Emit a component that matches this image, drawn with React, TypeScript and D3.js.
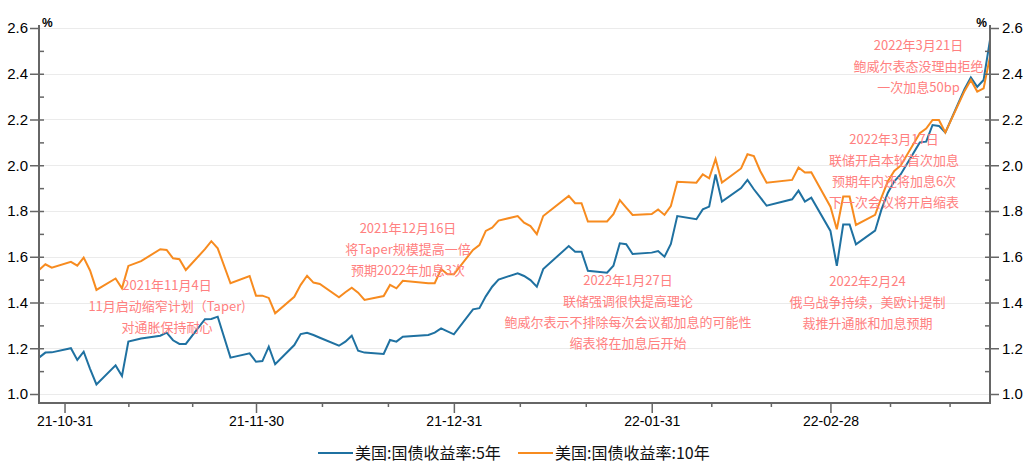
import { useEffect, useRef } from 'react';
import * as d3 from 'd3';

// trading days shown on the chart
const dates = [
  '2021-10-27', '2021-10-28', '2021-10-29',
  '2021-11-01', '2021-11-02', '2021-11-03', '2021-11-04', '2021-11-05',
  '2021-11-08', '2021-11-09', '2021-11-10', '2021-11-12',
  '2021-11-15', '2021-11-16', '2021-11-17', '2021-11-18', '2021-11-19',
  '2021-11-22', '2021-11-23', '2021-11-24', '2021-11-26',
  '2021-11-29', '2021-11-30', '2021-12-01', '2021-12-02', '2021-12-03',
  '2021-12-06', '2021-12-07', '2021-12-08', '2021-12-09', '2021-12-10',
  '2021-12-13', '2021-12-14', '2021-12-15', '2021-12-16', '2021-12-17',
  '2021-12-20', '2021-12-21', '2021-12-22', '2021-12-23',
  '2021-12-27', '2021-12-28', '2021-12-29', '2021-12-30', '2021-12-31',
  '2022-01-03', '2022-01-04', '2022-01-05', '2022-01-06', '2022-01-07',
  '2022-01-10', '2022-01-11', '2022-01-12', '2022-01-13', '2022-01-14',
  '2022-01-18', '2022-01-19', '2022-01-20', '2022-01-21',
  '2022-01-24', '2022-01-25', '2022-01-26', '2022-01-27', '2022-01-28',
  '2022-01-31', '2022-02-01', '2022-02-02', '2022-02-03', '2022-02-04',
  '2022-02-07', '2022-02-08', '2022-02-09', '2022-02-10', '2022-02-11',
  '2022-02-14', '2022-02-15', '2022-02-16', '2022-02-17', '2022-02-18',
  '2022-02-22', '2022-02-23', '2022-02-24', '2022-02-25',
  '2022-02-28', '2022-03-01', '2022-03-02', '2022-03-03', '2022-03-04',
  '2022-03-07', '2022-03-08', '2022-03-09', '2022-03-10', '2022-03-11',
  '2022-03-14', '2022-03-15', '2022-03-16', '2022-03-17', '2022-03-18',
  '2022-03-21', '2022-03-22', '2022-03-23', '2022-03-24', '2022-03-25',
];

// 美国:国债收益率:5年 (%)
const yield5 = [
  1.159, 1.181, 1.182,
  1.200, 1.149, 1.185, 1.110, 1.042,
  1.125, 1.079, 1.229, 1.243,
  1.255, 1.268, 1.235, 1.219, 1.219,
  1.327, 1.328, 1.338, 1.159,
  1.178, 1.141, 1.144, 1.207, 1.130,
  1.214, 1.262, 1.268, 1.258, 1.246,
  1.211, 1.229, 1.255, 1.189, 1.181,
  1.175, 1.236, 1.229, 1.250,
  1.258, 1.268, 1.287, 1.274, 1.261,
  1.370, 1.375, 1.427, 1.469, 1.500,
  1.528, 1.516, 1.498, 1.469, 1.546,
  1.647, 1.622, 1.622, 1.539,
  1.530, 1.561, 1.659, 1.655, 1.612,
  1.618, 1.625, 1.600, 1.656, 1.778,
  1.764, 1.807, 1.819, 1.960, 1.841,
  1.900, 1.936, 1.895, 1.860, 1.823,
  1.851, 1.889, 1.841, 1.858,
  1.713, 1.560, 1.741, 1.741, 1.654,
  1.714, 1.807, 1.880, 1.930, 1.960,
  2.100, 2.103, 2.176, 2.172, 2.143,
  2.332, 2.384, 2.343, 2.373, 2.548,
];

// 美国:国债收益率:10年 (%)
const yield10 = [
  1.542, 1.567, 1.552,
  1.578, 1.561, 1.596, 1.540, 1.455,
  1.505, 1.462, 1.560, 1.581,
  1.633, 1.630, 1.593, 1.589, 1.542,
  1.633, 1.668, 1.637, 1.484,
  1.516, 1.430, 1.430, 1.420, 1.353,
  1.425, 1.477, 1.517, 1.487, 1.481,
  1.423, 1.445, 1.465, 1.443, 1.411,
  1.428, 1.477, 1.462, 1.495,
  1.484, 1.484, 1.546, 1.523, 1.523,
  1.630, 1.651, 1.713, 1.727, 1.758,
  1.778, 1.749, 1.734, 1.699, 1.778,
  1.866, 1.834, 1.834, 1.754,
  1.754, 1.786, 1.848, 1.815, 1.783,
  1.787, 1.807, 1.783, 1.822, 1.928,
  1.924, 1.960, 1.943, 2.027, 1.924,
  1.986, 2.048, 2.040, 1.975, 1.924,
  1.936, 1.990, 1.968, 1.969,
  1.819, 1.720, 1.863, 1.863, 1.739,
  1.783, 1.860, 1.930, 1.975, 1.998,
  2.140, 2.160, 2.198, 2.198, 2.143,
  2.324, 2.373, 2.322, 2.336, 2.475,
];

const tickDates = ['2021-10-31', '2021-11-30', '2021-12-31', '2022-01-31', '2022-02-28'];
const tickLabels = ['21-10-31', '21-11-30', '21-12-31', '22-01-31', '22-02-28'];
const yTicks = [1.0, 1.2, 1.4, 1.6, 1.8, 2.0, 2.2, 2.4, 2.6];

const seriesNames = ['美国:国债收益率:5年', '美国:国债收益率:10年'];
const seriesColors = ['#1f71a1', '#f78b1f'];

const notes = [
  { lines: ['2021年11月4日', '11月启动缩窄计划（Taper)', '对通胀保持耐心'], x: 167, y: 285 },
  { lines: ['2021年12月16日', '将Taper规模提高一倍', '预期2022年加息3次'], x: 408, y: 228 },
  { lines: ['2022年1月27日', '联储强调很快提高理论', '鲍威尔表示不排除每次会议都加息的可能性', '缩表将在加息后开始'], x: 628, y: 280.5 },
  { lines: ['2022年3月21日', '鲍威尔表态没理由拒绝', '一次加息50bp'], x: 918.5, y: 45 },
  { lines: ['2022年3月17日', '联储开启本轮首次加息', '预期年内还将加息6次', '下一次会议将开启缩表'], x: 894, y: 139.5 },
  { lines: ['2022年2月24', '俄乌战争持续，美欧计提制', '裁推升通胀和加息预期'], x: 867.5, y: 281.5 },
];

export default function App() {
  const ref = useRef<SVGSVGElement>(null);

  useEffect(() => {
    const W = 1032, H = 471;
    const L = 39, R = 990, T = 28, B = 394, axisY = 403;
    const axisColor = '#666';
    const numFont = '"Liberation Sans", Arial, sans-serif';
    const cjkFont = '"Noto Sans CJK SC", sans-serif';

    const parse = d3.timeParse('%Y-%m-%d');
    const ds = dates.map(s => parse(s) as Date);

    const x = d3.scaleTime()
      .domain(d3.extent(ds) as [Date, Date])
      .range([L, R]);
    const y = d3.scaleLinear().domain([1.0, 2.6]).range([B, T]);

    const svg = d3.select(ref.current).attr('width', W).attr('height', H);
    svg.selectAll('*').remove();

    // grid
    svg.append('g')
      .selectAll('line')
      .data(yTicks)
      .join('line')
        .attr('x1', L).attr('x2', R)
        .attr('y1', d => Math.round(y(d)) + 0.5)
        .attr('y2', d => Math.round(y(d)) + 0.5)
        .attr('stroke', '#ebebeb');

    // lines
    const series = [yield5, yield10];
    series.forEach((vals, k) => {
      const line = d3.line<number>()
        .x((_, i) => x(ds[i]))
        .y(v => y(v));
      svg.append('path')
        .attr('d', line(vals))
        .attr('fill', 'none')
        .attr('stroke', seriesColors[k])
        .attr('stroke-width', 2);
    });

    // annotations
    const ann = svg.append('g')
      .attr('font-family', cjkFont)
      .attr('font-size', 13)
      .attr('fill', '#ff8080')
      .attr('text-anchor', 'middle');
    notes.forEach(n => {
      n.lines.forEach((t, i) => {
        ann.append('text')
          .attr('x', n.x)
          .attr('y', n.y + i * 21 + 4.6)
          .text(t);
      });
    });

    // minor ticks: thirds between month ends, and two beyond the last
    const tds = tickDates.map(s => parse(s) as Date);
    const minor: Date[] = [];
    tds.forEach((d, i) => {
      const next = tds[i + 1];
      const span = next ? +next - +d : +d - +tds[i - 1];
      if (next || i === tds.length - 1) {
        minor.push(new Date(+d + span / 3), new Date(+d + (2 * span) / 3));
      }
    });

    const styleAxis = (g: d3.Selection<SVGGElement, unknown, null, undefined>) => {
      g.select('.domain').remove();
      g.selectAll('line').attr('stroke', axisColor).attr('stroke-width', 1.5);
      g.selectAll('text').attr('fill', '#000');
      g.attr('font-family', numFont);
    };

    // left axis
    svg.append('g')
      .attr('transform', `translate(${L},0)`)
      .call(d3.axisLeft(y).tickValues(yTicks).tickSize(9).tickPadding(2).tickFormat(d3.format('.1f')))
      .call(styleAxis)
      .attr('font-size', 15);
    svg.append('g')
      .attr('transform', `translate(${L},0)`)
      .call(d3.axisRight(y).tickValues(d3.range(1.1, 2.6, 0.1).map(v => +v.toFixed(2)))
        .tickSize(5).tickFormat(() => ''))
      .call(styleAxis);

    // right axis
    svg.append('g')
      .attr('transform', `translate(${R},0)`)
      .call(d3.axisRight(y).tickValues(yTicks).tickSize(9).tickPadding(3).tickFormat(d3.format('.1f')))
      .call(styleAxis)
      .attr('font-size', 15);
    svg.append('g')
      .attr('transform', `translate(${R},0)`)
      .call(d3.axisLeft(y).tickValues(d3.range(1.1, 2.6, 0.1).map(v => +v.toFixed(2)))
        .tickSize(5).tickFormat(() => ''))
      .call(styleAxis);

    // bottom axis
    svg.append('g')
      .attr('transform', `translate(0,${axisY})`)
      .call(d3.axisBottom(x).tickValues(tds).tickSize(10).tickPadding(3)
        .tickFormat((_, i) => tickLabels[i]))
      .call(styleAxis)
      .attr('font-size', 14);
    svg.append('g')
      .attr('transform', `translate(0,${axisY})`)
      .call(d3.axisBottom(x).tickValues(minor).tickSize(4).tickFormat(() => ''))
      .call(styleAxis);

    // frame lines
    const frame = svg.append('g').attr('stroke', axisColor).attr('stroke-width', 2);
    frame.append('line').attr('x1', L).attr('x2', L).attr('y1', 25).attr('y2', axisY + 1);
    frame.append('line').attr('x1', R).attr('x2', R).attr('y1', 25).attr('y2', axisY + 1);
    frame.append('line').attr('x1', L - 1).attr('x2', R + 1).attr('y1', axisY).attr('y2', axisY);

    // unit labels
    svg.append('text').attr('x', 42).attr('y', 27)
      .attr('font-family', numFont).attr('font-size', 12).attr('font-weight', 700)
      .text('%');
    svg.append('text').attr('x', 987).attr('y', 27).attr('text-anchor', 'end')
      .attr('font-family', numFont).attr('font-size', 12).attr('font-weight', 700)
      .text('%');

    // legend
    const legendX = [318, 518];
    seriesNames.forEach((name, k) => {
      const g = svg.append('g').attr('transform', `translate(${legendX[k]},453)`);
      g.append('line').attr('x1', 0).attr('x2', 35)
        .attr('stroke', seriesColors[k]).attr('stroke-width', 2);
      g.append('text').attr('x', 37).attr('y', 6)
        .attr('font-family', cjkFont).attr('font-size', 16).attr('fill', '#111')
        .text(name);
    });
  }, []);

  return (
    <svg ref={ref} style={{ position: 'absolute', left: 0, top: 0, background: '#fff' }} />
  );
}
